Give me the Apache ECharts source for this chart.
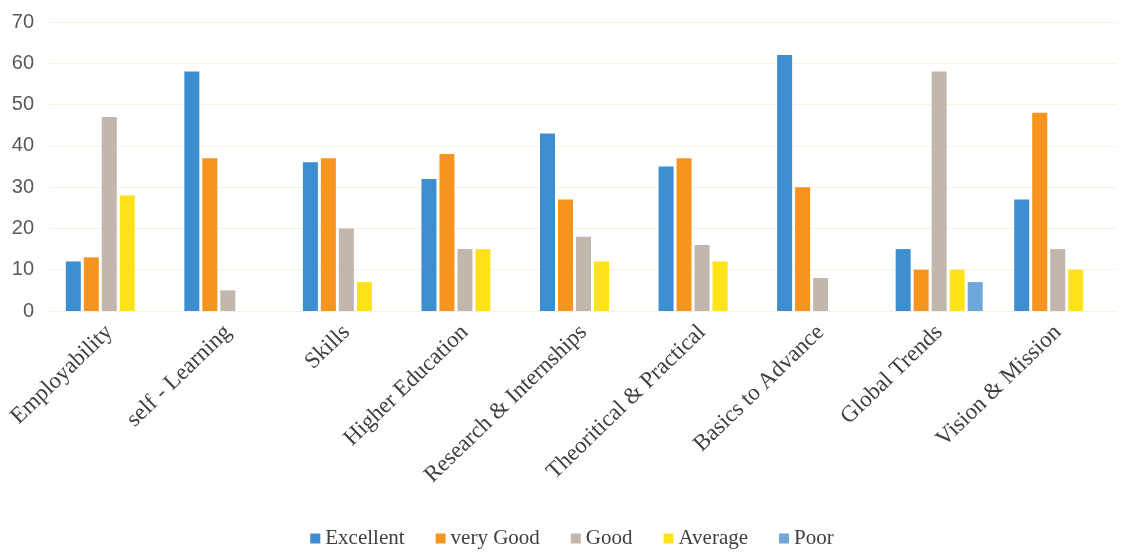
<!DOCTYPE html>
<html>
<head>
<meta charset="utf-8">
<script src="https://cdn.jsdelivr.net/npm/echarts@6/dist/echarts.min.js"></script>
<style>html,body{margin:0;padding:0;background:#fff}#c{width:1144px;height:556px}</style>
</head>
<body>
<div id="c"></div>
<script>
const categories = ["Employability","self - Learning","Skills","Higher Education","Research & Internships","Theoritical & Practical","Basics to Advance","Global Trends","Vision & Mission"];
const seriesNames = ["Excellent","very Good","Good","Average","Poor"];
const excellent = [12, 58, 36, 32, 43, 35, 62, 15, 27];
const veryGood  = [13, 37, 37, 38, 27, 37, 30, 10, 48];
const good      = [47, 5, 20, 15, 18, 16, 8, 58, 15];
const average   = [28, 0, 7, 15, 12, 12, 0, 10, 10];
const poor      = [0, 0, 0, 0, 0, 0, 0, 7, 0];
const yTicks = [0, 10, 20, 30, 40, 50, 60, 70];
const colors = ["#3d8dd1", "#f7941e", "#c2b7ac", "#ffe21a", "#6fa7da"];

const values = [excellent, veryGood, good, average, poor];
const chart = echarts.init(document.getElementById('c'));
chart.setOption({
  animation: false,
  grid: {left: 50, right: 27, top: 22, bottom: 245, containLabel: false},
  legend: {
    bottom: 2, left: 'center',
    itemWidth: 10, itemHeight: 10, itemGap: 31,
    icon: 'rect',
    textStyle: {fontFamily: 'Liberation Serif', fontSize: 21, color: '#404040'},
    data: seriesNames
  },
  xAxis: {
    type: 'category', data: categories,
    axisLine: {show: false}, axisTick: {show: false},
    axisLabel: {rotate: 44, interval: 0, margin: 18, fontFamily: 'Liberation Serif', fontSize: 23, color: '#404040'}
  },
  yAxis: {
    type: 'value', min: yTicks[0], max: yTicks[yTicks.length-1], interval: 10,
    axisLine: {show: false}, axisTick: {show: false},
    axisLabel: {margin: 16, fontFamily: 'Liberation Sans', fontSize: 20, color: '#595959'},
    splitLine: {lineStyle: {color: '#f6f3de', width: 1}}
  },
  series: seriesNames.map((n, i) => ({
    name: n, type: 'bar', data: values[i],
    barWidth: 15, barGap: '20%',
    itemStyle: {color: colors[i]}
  }))
});
</script>
</body>
</html>
